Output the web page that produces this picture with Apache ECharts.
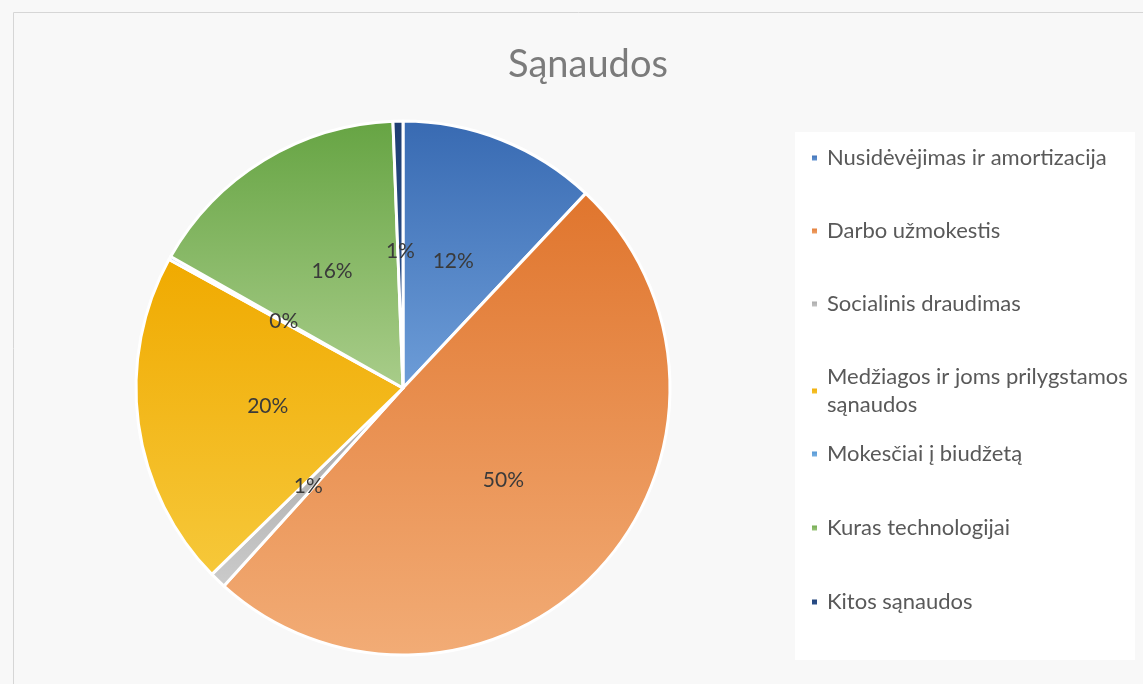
<!DOCTYPE html>
<html>
<head>
<meta charset="utf-8">
<script src="https://cdn.jsdelivr.net/npm/echarts@6/dist/echarts.min.js"></script>
<style>
  html, body { margin: 0; padding: 0; background: #f8f8f8; }
  #chart { width: 1143px; height: 684px; }
</style>
</head>
<body>
<div id="chart"></div>
<script>
var chartDom = document.getElementById('chart');
var myChart = echarts.init(chartDom);
var option;

// Sąnaudos, shares in percent
var categories = [
  'Nusidėvėjimas ir amortizacija',
  'Darbo užmokestis',
  'Socialinis draudimas',
  'Medžiagos ir joms prilygstamos sąnaudos',
  'Mokesčiai į biudžetą',
  'Kuras technologijai',
  'Kitos sąnaudos'
];
var values = [12.0, 49.7, 1.0, 20.3, 0.2, 16.2, 0.6];

// top colour / lighter bottom colour of each slice
var topColors = ['#386ab2', '#e0752d', '#a3a3a3', '#f0aa00', '#4a8fd0', '#66a443', '#1f3f73'];
var bottomColors = ['#6d9dd8', '#f2ac76', '#cbcbcb', '#f6c83a', '#84b9e6', '#a9cd8a', '#2f5592'];

var font = 'Lato, "Open Sans", sans-serif';

var pieData = categories.map(function (name, i) {
  return {
    name: name,
    value: values[i],
    itemStyle: {
      color: new echarts.graphic.LinearGradient(0, 0, 0, 1, [
        { offset: 0, color: topColors[i] },
        { offset: 1, color: bottomColors[i] }
      ])
    }
  };
});

var legendText = {
  color: '#595959',
  fontSize: 22,
  fontFamily: font,
  lineHeight: 28,
  padding: [0, 0, 0, 4]
};

// the long name wraps onto a second line, like in the original
function wrapName(name) {
  return name.replace('prilygstamos ', 'prilygstamos\n');
}

option = {
  backgroundColor: '#f8f8f8',
  title: {
    text: 'Sąnaudos',
    left: 583,
    top: 41,
    textAlign: 'center',
    textStyle: { color: '#7b7b7b', fontSize: 38, fontWeight: 'normal', fontFamily: font }
  },
  graphic: [
    {
      type: 'rect',
      left: 11, top: 10,
      shape: { width: 1130, height: 672 },
      style: { fill: 'none', stroke: '#d6d6d6', lineWidth: 1 },
      silent: true
    },
    {
      type: 'rect',
      left: 795, top: 132,
      shape: { width: 340, height: 528 },
      style: { fill: '#ffffff' },
      silent: true
    }
  ],
  legend: [
    {
      orient: 'vertical',
      left: 805,
      top: 139,
      itemGap: 45,
      itemWidth: 7,
      itemHeight: 7,
      icon: 'rect',
      selectedMode: false,
      data: categories.slice(0, 4),
      formatter: wrapName,
      textStyle: legendText
    },
    {
      orient: 'vertical',
      left: 805,
      top: 435,
      itemGap: 46,
      itemWidth: 7,
      itemHeight: 7,
      icon: 'rect',
      selectedMode: false,
      data: categories.slice(4),
      textStyle: legendText
    }
  ],
  series: [
    {
      type: 'pie',
      center: [403, 388],
      radius: 267,
      startAngle: 90,
      clockwise: true,
      animation: false,
      minAngle: 0,
      avoidLabelOverlap: false,
      itemStyle: { borderColor: '#ffffff', borderWidth: 3 },
      label: {
        position: 'inside',
        color: '#3a3a3a',
        fontSize: 21,
        fontFamily: font,
        formatter: function (p) { return Math.round(p.percent) + '%'; }
      },
      labelLine: { show: false },
      emphasis: { disabled: true },
      data: pieData
    }
  ]
};

option && myChart.setOption(option);
</script>
</body>
</html>
